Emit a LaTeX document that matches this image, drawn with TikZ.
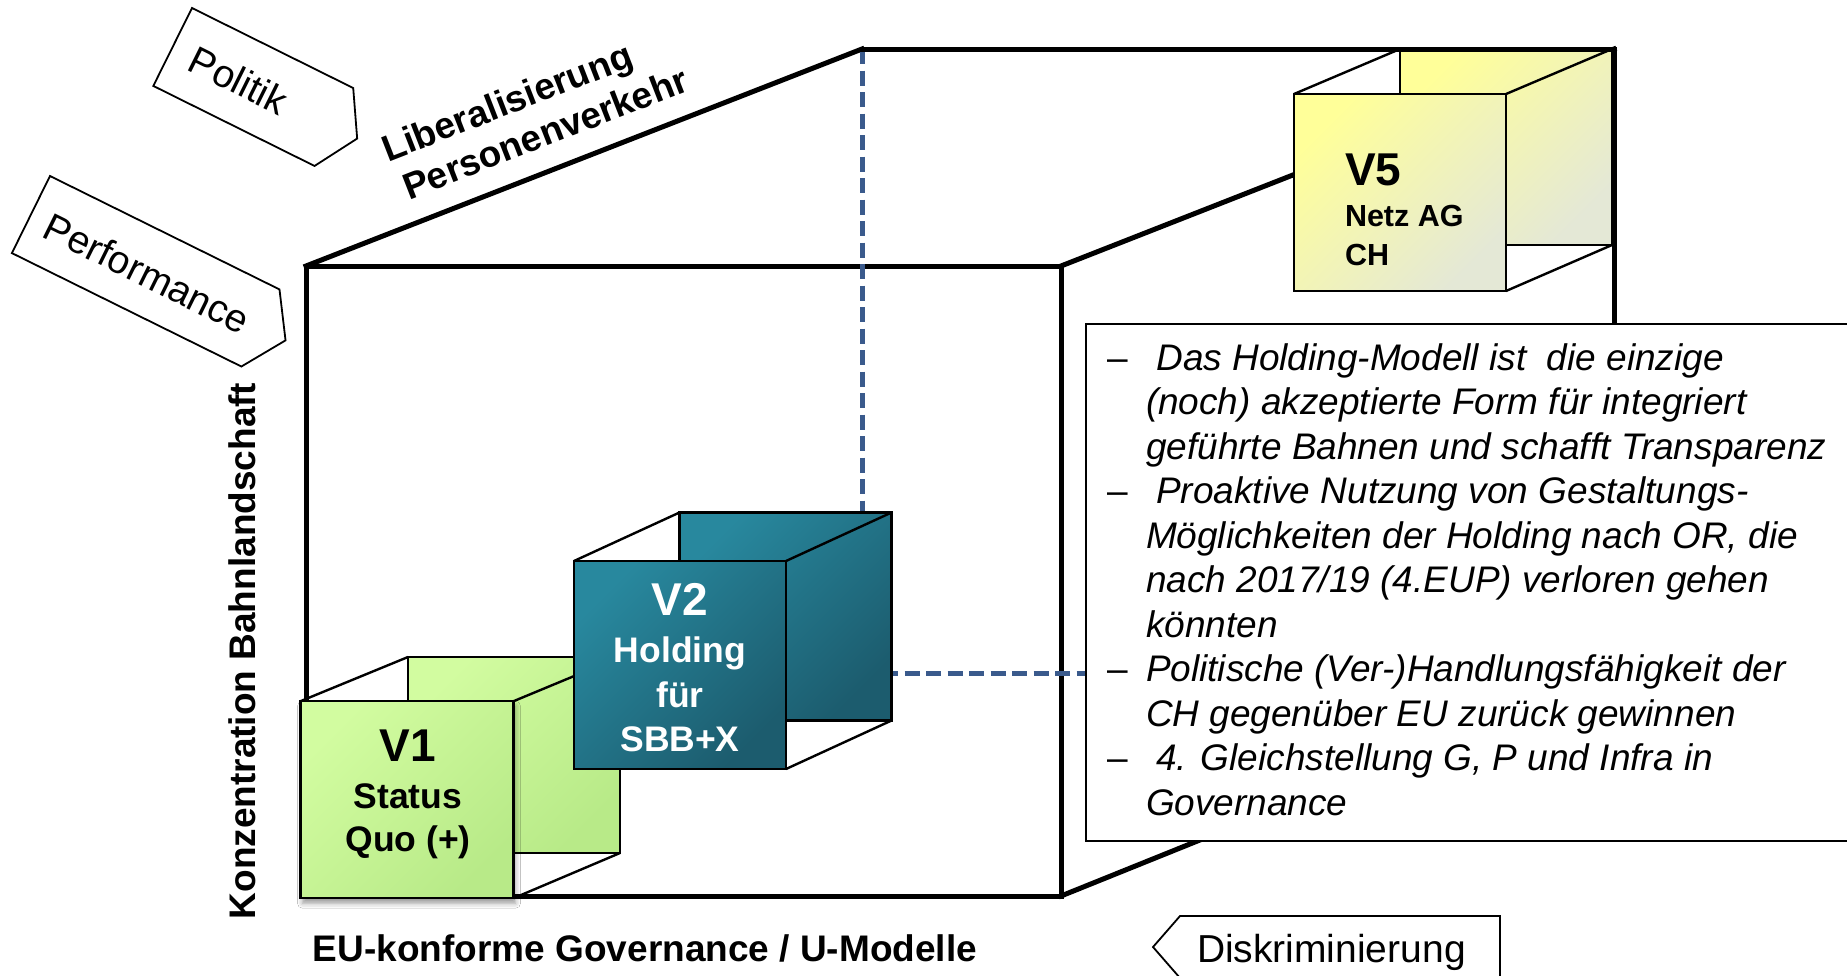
\documentclass[tikz,border=0pt]{standalone}
\usepackage{fontspec}
\setmainfont{Liberation Sans}
\usetikzlibrary{shadows.blur}

\definecolor{hiddenblue}{RGB}{58,90,140}
\definecolor{tealA}{RGB}{40,136,158}
\definecolor{tealB}{RGB}{28,92,110}
\definecolor{greenA}{RGB}{210,252,160}
\definecolor{greenB}{RGB}{184,234,136}
\definecolor{yellowA}{RGB}{255,255,153}
\definecolor{yellowB}{RGB}{228,232,214}

\begin{document}
\begin{tikzpicture}[x=1pt, y=-1pt,
  every node/.style={inner sep=0pt, outer sep=0pt},
  edge3d/.style={line width=5pt, line join=miter, line cap=rect},
  hiddenedge/.style={line width=5pt, draw=hiddenblue, dash pattern=on 15pt off 6.5pt},
  thinedge/.style={line width=2.4pt, draw=black},
  face/.style={draw=black, line width=2.4pt},
  greenface/.style={face, top color=greenA, bottom color=greenB, shading angle=45},
  tealface/.style={face, top color=tealA, bottom color=tealB, shading angle=45},
  yellowface/.style={face, top color=yellowA, bottom color=yellowB, shading angle=45},
  tagbox/.style={draw=black, line width=1.8pt, fill=white, line join=miter},
  tagfont/.style={font=\fontsize{39}{45}\selectfont},
  axisfont/.style={font=\fontsize{37}{42}\selectfont\bfseries},
  notefont/.style={font=\fontsize{37}{44.5}\selectfont\itshape},
  vbig/.style={font=\fontsize{46}{50}\selectfont\bfseries},
  vsub/.style={font=\fontsize{35.5}{44}\selectfont\bfseries},
  vsmall/.style={font=\fontsize{30.5}{38}\selectfont\bfseries}
]
\fill[white] (0,0) rectangle (1847,975);
\useasboundingbox (0,0) rectangle (1847,975);

% corners of the large cube
\coordinate (F1) at (306,266);
\coordinate (F2) at (1061,266);
\coordinate (F3) at (1061,896);
\coordinate (F4) at (306,896);
\coordinate (B1) at (862,49);
\coordinate (B2) at (1614,49);
\coordinate (B3) at (1614,673);
\coordinate (B4) at (862,673);

% visible edges of the large cube
\draw[edge3d] (F1) -- (F2) -- (F3) -- (F4) -- cycle;
\draw[edge3d] (F1) -- (B1);
\draw[edge3d] (F2) -- (B2);
\draw[edge3d] (F3) -- (B3);
% hidden edges
\draw[hiddenedge] (B1) -- (B4) -- (B3);

% V5 cube (back corner)
\node[yellowface, minimum width=212pt, minimum height=196pt] (v5b) at (1506,147) {};
\draw[edge3d] (B1) -- (B2) -- (B3);
\node[yellowface, minimum width=212pt, minimum height=197pt] (v5f) at (1400,192.5) {};
\draw[thinedge] (v5f.north west) -- (v5b.north west);
\draw[thinedge] (v5f.north east) -- (v5b.north east);
\draw[thinedge] (v5f.south east) -- (v5b.south east);
\node[vbig, anchor=base west] (v5t) at (1345,185) {V5};
\node[vsmall, anchor=base west] (v5s1) at (1345,226.7) {Netz AG};
\node[vsmall, anchor=base west] (v5s2) at (1345,265) {CH};

% V1 cube
\node[greenface, minimum width=212pt, minimum height=196pt] (v1b) at (514,755) {};
\node[greenface, minimum width=213pt, minimum height=197pt,
      blur shadow={shadow xshift=2pt, shadow yshift=-5pt, shadow opacity=40, shadow blur radius=5pt}] (v1f) at (407,799.7) {};
\draw[thinedge] (v1f.north west) -- (v1b.north west);
\draw[thinedge] (v1f.north east) -- (v1b.north east);
\draw[thinedge] (v1f.south east) -- (v1b.south east);
\node[vbig, anchor=base] (v1t) at (408,761.7) {V1};
\node[vsub, anchor=base] (v1s1) at (408,808.3) {Status};
\node[vsub, anchor=base] (v1s2) at (408,851.7) {Quo (+)};

% V2 cube
\node[tealface, minimum width=212pt, minimum height=208pt] (v2b) at (785.5,616.5) {};
\node[tealface, minimum width=212pt, minimum height=208pt] (v2f) at (680,665) {};
\draw[thinedge] (v2f.north west) -- (v2b.north west);
\draw[thinedge] (v2f.north east) -- (v2b.north east);
\draw[thinedge] (v2f.south east) -- (v2b.south east);
\node[vbig, white, anchor=base] (v2t) at (680,615) {V2};
\node[vsub, white, anchor=base] (v2s1) at (680,662.7) {Holding};
\node[vsub, white, anchor=base] (v2s2) at (680,707.7) {für};
\node[vsub, white, anchor=base] (v2s3) at (680,751.7) {SBB+X};

% notes
\node[draw=black, line width=2pt, fill=white, minimum width=820pt, minimum height=517pt,
      anchor=north west] (notes) at (1086,324) {};
\foreach \i in {0,3,7,9}
  \node[font=\fontsize{37}{44.5}\selectfont, anchor=base west] (dash\i) at (1107, 370+44.5*\i) {–};
\foreach \t [count=\i from 0] in {
  {\ Das Holding-Modell ist\ \ die einzige},
  {(noch) akzeptierte Form für integriert},
  {geführte Bahnen und schafft Transparenz},
  {\ Proaktive Nutzung von Gestaltungs-},
  {Möglichkeiten der Holding nach OR, die},
  {nach 2017/19 (4.EUP) verloren gehen},
  {könnten},
  {Politische (Ver-)Handlungsfähigkeit der},
  {CH gegenüber EU zurück gewinnen},
  {\ 4. Gleichstellung G, P und Infra in},
  {Governance}}
  \node[notefont, anchor=base west] (line\i) at (1146, 370+44.5*\i) {\t};

% axis labels
\node[axisfont, rotate=90, anchor=base] (yaxis) at (255,651) {Konzentration Bahnlandschaft};
\node[axisfont, anchor=base] (xaxis) at (645,961) {EU-konforme Governance / U-Modelle};
\node[axisfont, rotate=21.3, anchor=base west] (zaxis1) at (388,162) {Liberalisierung};
\node[axisfont, rotate=21.3, anchor=base west] (zaxis2) at (409,200) {Personenverkehr};

% tags
\begin{scope}[shift={(192,8)}, rotate=-26.4]
  \draw[tagbox] (0,0) -- (180,0) -- (206,43.5) -- (180,87) -- (0,87) -- cycle;
  \node[tagfont, rotate=-26.4] (politik) at (74,44) {Politik};
\end{scope}
\begin{scope}[shift={(50,176)}, rotate=-26.3]
  \draw[tagbox] (0,0) -- (256,0) -- (284,43) -- (256,86) -- (0,86) -- cycle;
  \node[tagfont, rotate=-26.3] (performance) at (130,44) {Performance};
\end{scope}
\draw[tagbox] (1180,916) -- (1500,916) -- (1500,978) -- (1180,978) -- (1153,947) -- cycle;
\node[tagfont, anchor=base west] (diskr) at (1197,962) {Diskriminierung};
\end{tikzpicture}
\end{document}
